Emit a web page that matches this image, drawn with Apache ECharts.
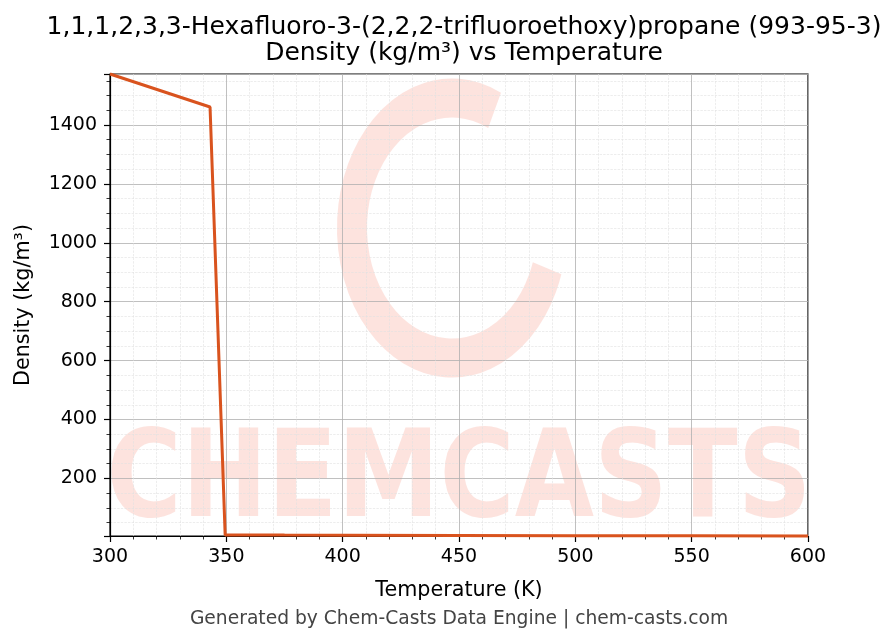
<!DOCTYPE html>
<html>
<head>
<meta charset="utf-8">
<script src="https://cdn.jsdelivr.net/npm/echarts@6/dist/echarts.min.js"></script>
<style>
  html, body { margin: 0; padding: 0; background: #fff; }
  #chart { width: 892px; height: 644px; }
</style>
</head>
<body>
<div id="chart"></div>
<script>
// 温度 (K) 和 密度 (kg/m³)
var temps = [300, 343, 349.5, 375, 400, 450, 500, 550, 600];
var density = [1573, 1461, 8.2, 7.6, 7.1, 6.3, 5.6, 5.1, 4.6];
var xTicks = [300, 350, 400, 450, 500, 550, 600];
var yMin = 4.6, yMax = 1573;

var fontName = 'DejaVu Sans';
var myChart = echarts.init(document.getElementById('chart'));

var points = temps.map(function (t, i) { return [t, density[i]]; });

var option = {
  backgroundColor: '#fff',
  animation: false,
  title: {
    text: '1,1,1,2,3,3-Hexafluoro-3-(2,2,2-trifluoroethoxy)propane (993-95-3)\nDensity (kg/m³) vs Temperature',
    left: 459, top: 9, textAlign: 'center',
    textStyle: { fontFamily: fontName, fontSize: 25, fontWeight: 'normal', color: '#000', lineHeight: 26 }
  },
  graphic: [
    {
      type: 'arc', z: 0, silent: true,
      x: 452, y: 228, scaleY: 1.3,
      shape: { cx: 0, cy: 0, r: 100, startAngle: -Math.PI * 0.36, endAngle: Math.PI * 0.1, clockwise: false },
      style: { stroke: 'rgba(252,200,190,0.5)', fill: 'none', lineWidth: 30 }
    },
    {
      type: 'text', z: 0, silent: true,
      x: 459, y: 484, scaleX: 0.84,
      style: {
        text: 'CHEMCASTS', fontFamily: fontName, fontSize: 122, fontWeight: 'bold',
        fill: 'rgba(252,200,190,0.5)', align: 'center', verticalAlign: 'middle'
      }
    },
    {
      type: 'text', silent: true, x: 459, y: 619,
      style: {
        text: 'Generated by Chem-Casts Data Engine | chem-casts.com',
        fontFamily: fontName, fontSize: 18.7, fill: '#444', align: 'center', verticalAlign: 'middle'
      }
    }
  ],
  grid: {
    left: 110, right: 84, top: 74, bottom: 108,
    show: true, borderColor: '#000', borderWidth: 1.2, backgroundColor: 'transparent'
  },
  xAxis: {
    type: 'value', min: 300, max: 600, interval: 50,
    name: 'Temperature (K)', nameLocation: 'middle', nameGap: 44,
    nameTextStyle: { fontFamily: fontName, fontSize: 20.7, color: '#000' },
    axisLine: { lineStyle: { color: '#000', width: 1.2 } },
    axisTick: { show: true, length: 6, lineStyle: { color: '#000', width: 1.2 } },
    minorTick: { show: true, splitNumber: 5, length: 3.5, lineStyle: { color: '#000', width: 0.8 } },
    axisLabel: {
      fontFamily: fontName, fontSize: 19, color: '#000', margin: 12,
      formatter: function (v) { return xTicks.indexOf(v) >= 0 ? String(v) : ''; }
    },
    splitLine: { show: true, lineStyle: { color: '#b0b0b0', width: 0.8 } },
    minorSplitLine: { show: true, lineStyle: { color: '#e0e0e0', width: 0.6, type: 'dashed' } }
  },
  yAxis: {
    type: 'value', min: yMin, max: yMax, splitNumber: 8,
    name: 'Density (kg/m³)', nameLocation: 'middle', nameGap: 76, nameRotate: 90,
    nameTextStyle: { fontFamily: fontName, fontSize: 20.7, color: '#000' },
    axisLine: { show: true, lineStyle: { color: '#000', width: 1.2 } },
    axisTick: { show: true, length: 6, lineStyle: { color: '#000', width: 1.2 } },
    minorTick: { show: true, splitNumber: 4, length: 3.5, lineStyle: { color: '#000', width: 0.8 } },
    axisLabel: {
      fontFamily: fontName, fontSize: 19, color: '#000', margin: 13,
      formatter: function (v) { return (Math.abs(v % 200) < 1e-6 && v > 0) ? String(v) : ''; }
    },
    splitLine: { show: true, lineStyle: { color: '#b0b0b0', width: 0.8 } },
    minorSplitLine: { show: true, lineStyle: { color: '#e0e0e0', width: 0.6, type: 'dashed' } }
  },
  series: [{
    type: 'line', data: points, symbol: 'none', z: 5,
    lineStyle: { color: '#d9531e', width: 3 },
    clip: false
  }]
};

myChart.setOption(option);
</script>
</body>
</html>
